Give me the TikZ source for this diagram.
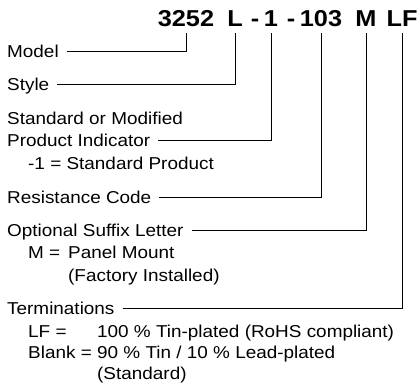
\documentclass[tikz,border=0pt]{standalone}
\usepackage{fontspec}
\setmainfont[FakeStretch=1.1]{Liberation Sans}
\tikzset{codepart/.style = {anchor = base, inner xsep = 0pt, inner ysep = 6.5bp, text depth = 0pt, font = \fontsize{23bp}{27bp}\selectfont\bfseries}}
\tikzset{field/.style = {anchor = base west, inner sep = 0pt, text height = 12bp, text depth = 0pt, font = \fontsize{17.2bp}{20bp}\selectfont}}
\tikzset{lead/.style = {draw, line width = 1bp, shorten <= 8bp}}

\begin{document}
\begin{tikzpicture}[x = 1bp, y = -1bp]
			\useasboundingbox (0, 0) rectangle (417, 386);

			\node[codepart] (model) at (186, 26.5) {3252};
			\node[codepart] (style) at (235, 26.5) {L};
			\node[codepart] (dasha) at (255, 26.5) {-};
			\node[codepart] (indicator) at (271, 26.5) {1};
			\node[codepart] (dashb) at (291, 26.5) {-};
			\node[codepart] (resistance) at (321, 26.5) {103};
			\node[codepart] (suffix) at (366, 26.5) {M};
			\node[codepart] (termination) at (402, 26.5) {LF};

			\node[field] (modeltext) at (7, 57) {Model};
			\node[field] (styletext) at (7, 90.5) {Style};
			\node[field] (stdtext) at (7, 124) {Standard or Modified};
			\node[field] (prodtext) at (7, 146.5) {Product Indicator};
			\node[field] (prodnote) at (28, 169.5) {-1 = Standard Product};
			\node[field] (restext) at (7, 203) {Resistance Code};
			\node[field] (suffixtext) at (7, 236.5) {Optional Suffix Letter};
			\node[field] (mountkey) at (28, 258) {M =};
			\node[field] (mountnote) at (68, 258) {Panel Mount};
			\node[field] (factorynote) at (68, 281) {(Factory Installed)};
			\node[field] (termtext) at (7, 314) {Terminations};
			\node[field] (lfkey) at (28, 337.5) {LF =};
			\node[field] (lfnote) at (97, 337.5) {100 \% Tin-plated (RoHS compliant)};
			\node[field] (blankkey) at (28, 358) {Blank =};
			\node[field] (blanknote) at (97, 358) {90 \% Tin / 10 \% Lead-plated};
			\node[field] (stdnote) at (97, 379) {(Standard)};

			\draw[lead] (modeltext.east) -| (model.south);
			\draw[lead] (styletext.east) -| (style.south);
			\draw[lead] (prodtext.east) -| (indicator.south);
			\draw[lead] (restext.east) -| (resistance.south);
			\draw[lead] (suffixtext.east) -| (suffix.south);
			\draw[lead] (termtext.east) -| (termination.south);
		\end{tikzpicture}
\end{document}
